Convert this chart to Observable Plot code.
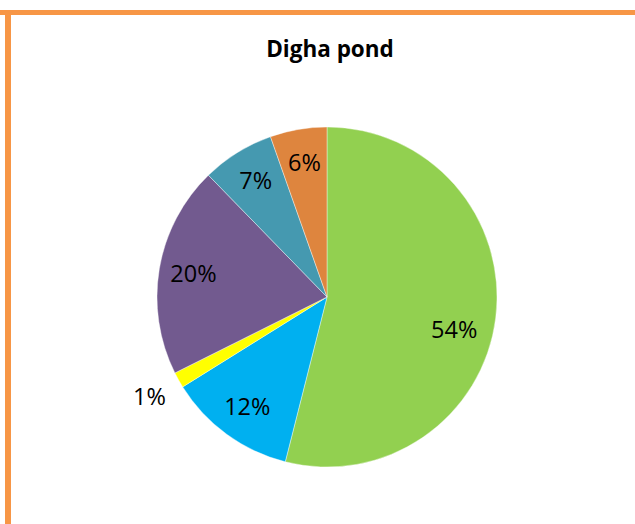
<!DOCTYPE html>
<html>
<head>
<meta charset="utf-8">
<script src="https://cdn.jsdelivr.net/npm/d3@7"></script>
<script src="https://cdn.jsdelivr.net/npm/@observablehq/plot@0.6"></script>
<style>
  html, body { margin: 0; padding: 0; background: #ffffff; }
  body { width: 635px; height: 524px; overflow: hidden; position: relative; }
  #chart { position: absolute; left: 0; top: 0; }
  #title { position: absolute; left: 0; width: 660px; top: 38px; text-align: center;
           font-family: "Open Sans", sans-serif; font-weight: 700; font-size: 22.5px; line-height: 1; color: #000; }
  #borderTop { position: absolute; left: 0; top: 10px; width: 635px; height: 5px; background: #f79646; }
  #borderLeft { position: absolute; left: 5px; top: 10px; width: 6px; height: 514px; background: #f79646; }
</style>
</head>
<body>
<div id="chart"></div>
<div id="title"></div>
<div id="borderTop"></div>
<div id="borderLeft"></div>
<script>
// ---- data ----
const title = "Digha pond";
const categories = ["Group 1", "Group 2", "Group 3", "Group 4", "Group 5", "Group 6"];
const values = [54, 12.2, 1.5, 20.1, 6.9, 5.4];
const labels = ["54%", "12%", "1%", "20%", "7%", "6%"];
const colors = ["#92d050", "#00b0f0", "#ffff00", "#725a8f", "#4599b0", "#de853e"];

document.getElementById("title").textContent = title;

const data = categories.map((c, i) => ({category: c, value: values[i], label: labels[i], color: colors[i]}));
const total = d3.sum(values);
const arcs = d3.pie().sort(null).value(d => d.value)(data);

// label positions in unit-circle data space (mid-angle; small slices outside)
const labelData = arcs.map(a => {
  const share = a.data.value / total;
  let mid = (a.startAngle + a.endAngle) / 2;
  let r = share < 0.03 ? 1.2 : 0.8;
  if (share > 0.5) { mid += 0.13; r = 0.77; } // best-fit placement of the big slice's label
  return {label: a.data.label, x: r * Math.sin(mid), y: r * Math.cos(mid)};
});

function wedges(index, scales) {
  let cx, cy, r;
  if (scales && typeof scales.x === "function") {
    cx = scales.x(0); cy = scales.y(0); r = scales.x(1) - scales.x(0);
  } else {
    cx = 327; cy = 297; r = 170;
  }
  const g = d3.create("svg:g");
  g.selectAll("path").data(arcs).join("path")
    .attr("transform", `translate(${cx},${cy})`)
    .attr("d", d3.arc().innerRadius(0).outerRadius(r))
    .attr("fill", d => d.data.color)
    .attr("stroke", "#ffffff")
    .attr("stroke-width", 0.4);
  return g.node();
}

const chart = Plot.plot({
  width: 635,
  height: 524,
  style: {background: "transparent", fontFamily: "'Open Sans', sans-serif"},
  x: {domain: [-1, 1], range: [157, 497], axis: null},
  y: {domain: [-1, 1], range: [467, 127], axis: null},
  marks: [
    wedges,
    Plot.text(labelData, {x: "x", y: "y", text: "label", fontSize: 23.5, fill: "#000", fontFamily: "'Open Sans', sans-serif"})
  ]
});
document.getElementById("chart").appendChild(chart);
</script>
</body>
</html>
